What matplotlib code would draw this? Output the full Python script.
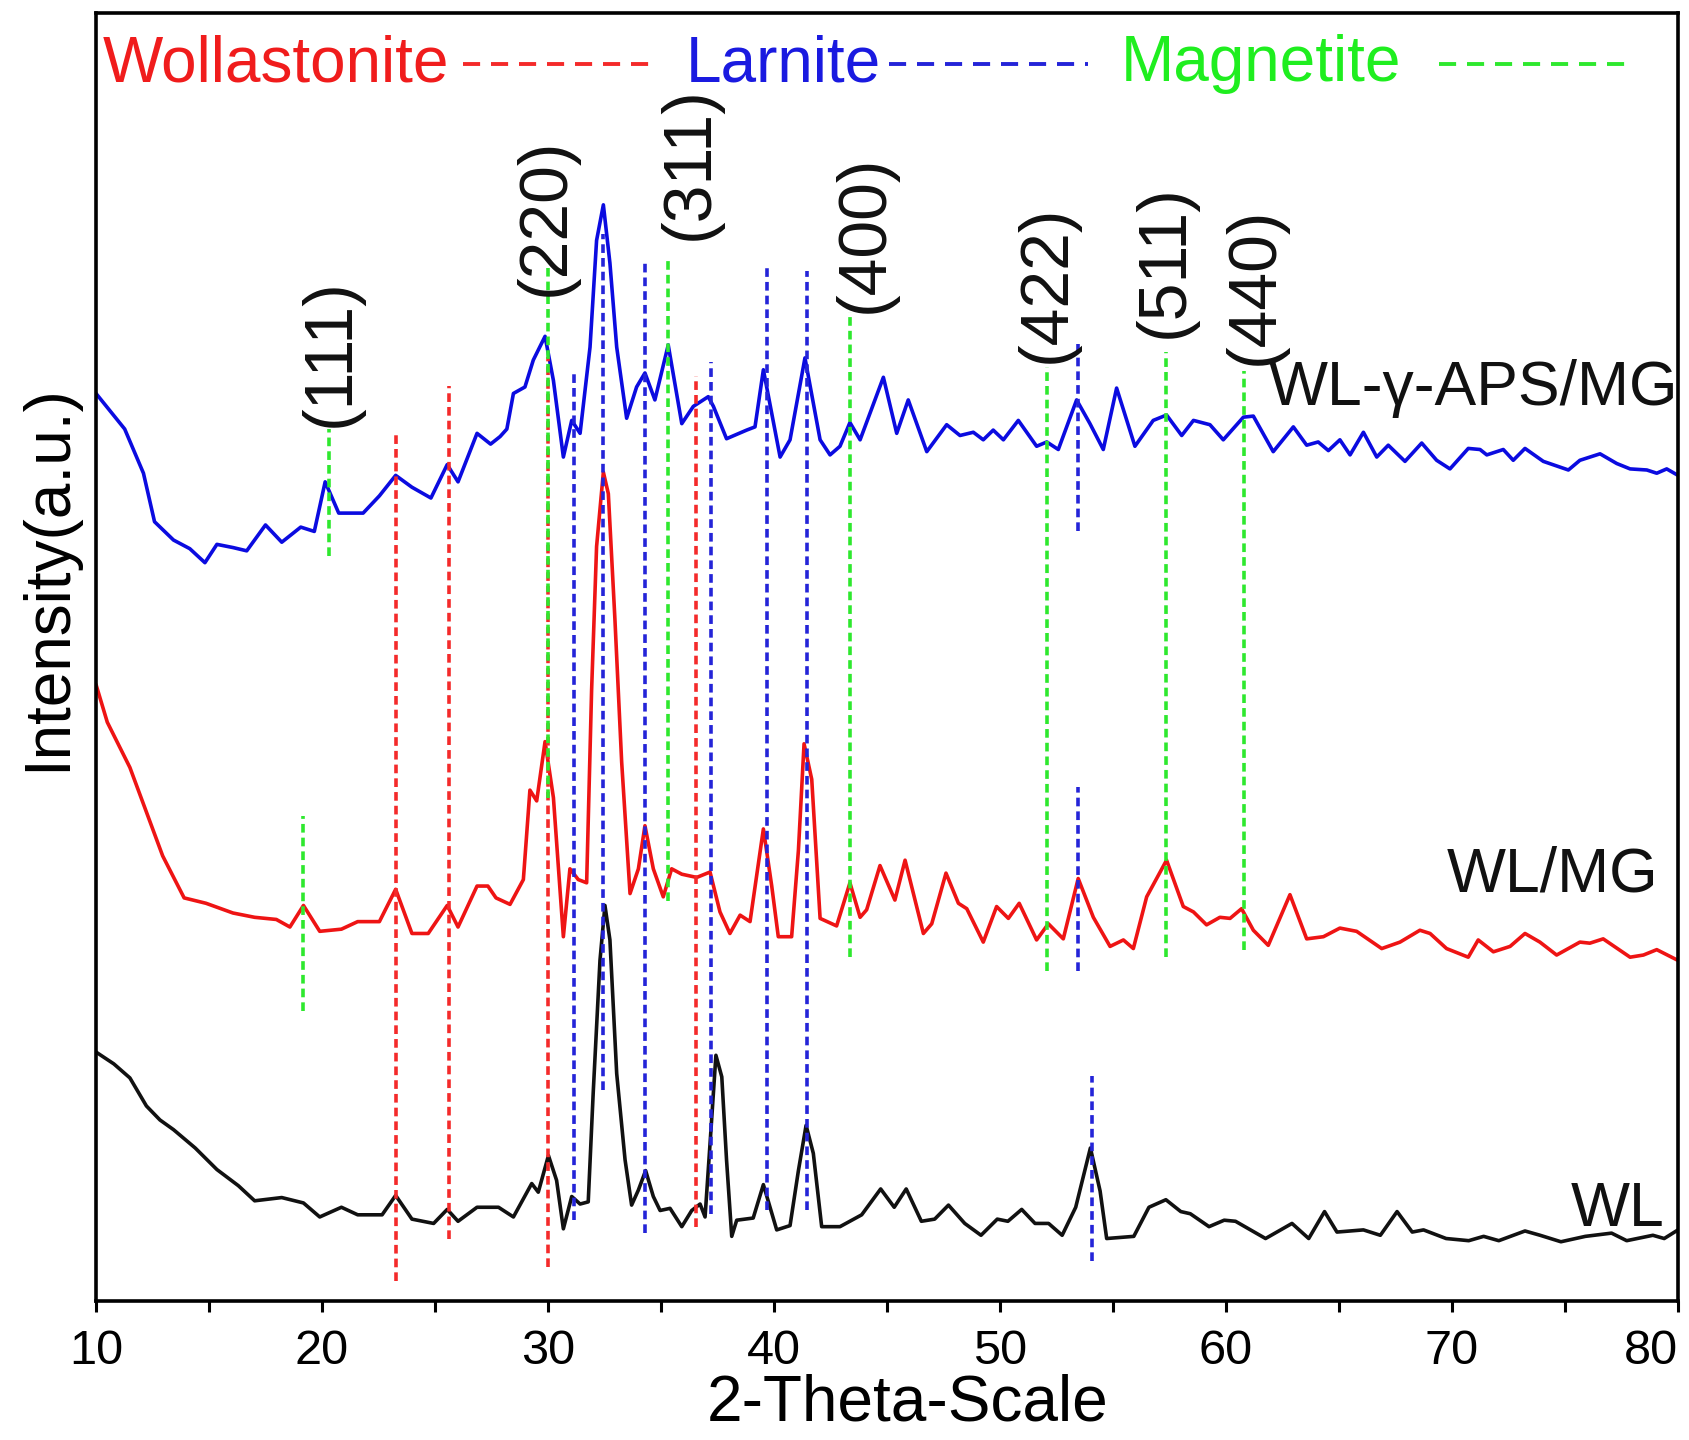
import matplotlib
matplotlib.use("Agg")
import matplotlib.pyplot as plt

plt.rcParams['font.family'] = ['Liberation Sans', 'DejaVu Sans']

# ---------------- data (2-theta in degrees, intensity in a.u.) ----------------
theta_aps = [10.0, 11.27, 12.1, 12.59, 13.43, 14.15, 14.82, 15.35, 16.07, 16.67,
             17.5, 18.22, 19.06, 19.66, 20.14, 20.74, 21.82, 22.54, 23.26, 23.98,
             24.82, 25.54, 26.02, 26.86, 27.46, 27.88, 28.18, 28.47, 28.98, 29.35,
             29.87, 30.24, 30.68, 31.05, 31.42, 31.86, 32.15, 32.45, 32.74, 33.04,
             33.48, 33.92, 34.29, 34.73, 35.32, 35.92, 36.43, 37.09, 37.32, 37.9,
             38.79, 39.16, 39.53, 40.27, 40.71, 41.37, 42.04, 42.48, 42.92, 43.36,
             43.81, 44.84, 45.43, 45.94, 46.76, 47.64, 48.23, 48.82, 49.26, 49.7,
             50.15, 50.81, 51.62, 52.07, 52.58, 53.39, 53.98, 54.57, 55.16, 55.97,
             56.78, 57.37, 58.04, 58.56, 59.29, 59.88, 60.77, 61.21, 62.09, 62.98,
             63.57, 64.08, 64.53, 65.04, 65.49, 66.08, 66.67, 67.18, 67.92, 68.66,
             69.32, 69.91, 70.72, 71.24, 71.54, 72.27, 72.71, 73.23, 74.04, 75.15,
             75.66, 76.55, 77.29, 77.88, 78.62, 79.06, 79.5, 80.0]
int_aps = [842, 809, 768, 723, 706, 698, 685, 702, 699, 696,
           720, 704, 718, 714, 760, 731, 731, 747, 766, 755,
           745, 776, 760, 805, 795, 802, 809, 842, 848, 873,
           895, 854, 783, 817, 805, 885, 984, 1017, 963, 885,
           819, 848, 861, 836, 887, 814, 830, 839, 830, 800,
           808, 811, 864, 783, 799, 875, 799, 785, 793, 815,
           799, 857, 805, 836, 788, 813, 803, 806, 799, 808,
           799, 817, 793, 797, 790, 836, 814, 790, 847, 793,
           817, 822, 803, 817, 813, 799, 820, 821, 788, 811,
           794, 797, 789, 799, 785, 806, 783, 794, 779, 796,
           780, 772, 791, 790, 785, 790, 780, 791, 779, 771,
           780, 786, 777, 772, 771, 768, 772, 766]

theta_wlmg = [10.0, 10.5, 11.5, 12.95, 13.9, 14.87, 16.06, 17.02, 17.98, 18.58,
              19.18, 19.9, 20.86, 21.58, 22.54, 23.26, 23.98, 24.7, 25.54, 26.02,
              26.86, 27.34, 27.7, 28.32, 28.91, 29.2, 29.5, 29.87, 30.24, 30.68,
              30.97, 31.34, 31.71, 31.93, 32.15, 32.45, 32.67, 32.96, 33.26, 33.63,
              34.0, 34.29, 34.66, 35.1, 35.47, 35.92, 36.58, 37.17, 37.61, 38.05,
              38.5, 38.94, 39.53, 39.9, 40.19, 40.78, 41.08, 41.33, 41.67, 42.04,
              42.77,
              43.36, 43.81, 44.1, 44.69, 45.35, 45.8, 46.61, 46.98, 47.61, 48.16,
              48.53, 49.26, 49.85, 50.37, 50.85, 51.62, 52.14, 52.8, 53.46, 54.13,
              54.87, 55.46, 55.9, 56.49, 57.37, 58.11, 58.56, 59.14, 59.73, 60.18,
              60.69, 61.21, 61.87, 62.83, 63.57, 64.31, 65.04, 65.78, 66.89, 67.7,
              68.58, 69.03, 69.76, 70.72, 71.16, 71.83, 72.57, 73.23, 73.89, 74.63,
              75.66, 76.1, 76.69, 77.88, 78.47, 79.06, 80.0]
int_wlmg = [572, 537, 495, 413, 374, 369, 360, 356, 354, 347,
            367, 343, 345, 352, 352, 382, 341, 341, 367, 347,
            385, 385, 374, 368, 391, 474, 464, 519, 467, 338,
            401, 391, 388, 567, 700, 769, 749, 633, 500, 378,
            401, 441, 401, 375, 401, 396, 393, 398, 361, 341,
            358, 352, 438, 385, 338, 338, 418, 517, 484, 355,
            348,
            388, 356, 363, 404, 372, 409, 341, 350, 397, 369,
            364, 333, 366, 355, 369, 335, 350, 336, 392, 356,
            329, 335, 327, 375, 409, 366, 361, 349, 356, 355,
            364, 344, 330, 377, 336, 338, 346, 343, 327, 333,
            344, 341, 327, 319, 335, 324, 329, 341, 333, 321,
            333, 332, 336, 319, 321, 326, 316]

theta_wl = [10.0, 10.79, 11.5, 12.23, 12.83, 13.43, 14.39, 15.35, 16.3, 17.02,
            18.22, 19.18, 19.9, 20.86, 21.58, 22.66, 23.26, 23.98, 24.94, 25.54,
            26.02, 26.86, 27.81, 28.47, 29.28, 29.57, 30.02, 30.38, 30.68, 31.05,
            31.42, 31.78, 32.0, 32.3, 32.52, 32.74, 33.04, 33.41, 33.7, 34.0,
            34.32, 34.66, 34.96, 35.4, 35.92, 36.36, 36.73, 36.95, 37.17, 37.43,
            37.69, 37.9, 38.13, 38.35, 39.08, 39.53, 40.12, 40.71, 41.08, 41.42,
            41.74, 42.11, 42.92, 43.88, 44.72, 45.32, 45.85, 46.52, 47.11, 47.72,
            48.44, 49.16, 49.88, 50.35, 50.96, 51.55, 52.15, 52.75, 53.35, 54.0,
            54.43,
            54.72, 55.92, 56.59, 57.34, 58.0, 58.42, 59.25, 59.92, 60.42, 61.75,
            62.92, 63.66, 64.36, 64.91, 66.08, 66.83, 67.57, 68.24, 68.74, 69.74,
            70.74, 71.4, 72.07, 73.23, 73.9, 74.82, 75.9, 77.06, 77.73, 78.89,
            79.39, 80.0]
int_wl = [231, 220, 207, 181, 168, 159, 142, 122, 107, 93,
          96, 91, 78, 87, 80, 80, 98, 76, 72, 85,
          74, 87, 87, 78, 109, 101, 135, 112, 67, 97,
          90, 92, 193, 316, 367, 335, 211, 131, 89, 103,
          121, 97, 84, 86, 69, 84, 90, 78, 146, 228,
          208, 131, 60, 75, 77, 108, 66, 70, 121, 163,
          137, 69, 69, 80, 104, 87, 104, 74, 76, 89,
          72, 61, 76, 74, 85, 72, 72, 61, 87, 142,
          102,
          58, 60, 87, 94, 83, 81, 69, 75, 74, 58,
          72, 58, 83, 64, 66, 61, 83, 64, 66, 58,
          56, 60, 56, 65, 61, 55, 60, 63, 56, 61,
          58, 66]

# reference (phase) lines: position, phase, lower and upper end
ref_theta = [20.3, 23.26, 25.6, 30.0, 30.0, 31.15, 32.42, 34.29, 35.3, 36.55,
             37.2, 39.68, 41.45, 43.36, 52.1, 53.45, 53.45, 57.35, 60.8, 19.16, 54.06]
ref_phase = ['M', 'W', 'W', 'W', 'M', 'L', 'L', 'L', 'M', 'W',
             'L', 'L', 'L', 'M', 'M', 'L', 'L', 'M', 'M', 'M', 'L']
ref_low = [691, 19, 58, 32, 467, 75, 196, 63, 371, 69,
           81, 84, 84, 319, 306, 714, 306, 319, 326, 269, 37]
ref_high = [809, 807, 849, 876, 958, 862, 990, 966, 966, 858,
            871, 958, 956, 918, 867, 888, 477, 880, 863, 450, 209]

# Miller indices of magnetite
hkl_labels = ['(111)', '(220)', '(311)', '(400)', '(422)', '(511)', '(440)']
hkl_theta = [20.38, 29.9, 36.26, 44.0, 52.08, 57.31, 61.27]
hkl_int = [880, 1006, 1056, 990, 944, 965, 942]

phase_names = ['Wollastonite', 'Larnite', 'Magnetite']
phase_keys = ['W', 'L', 'M']
phase_colors = {'W': '#f42a2a', 'L': '#2424d8', 'M': '#2ee82e'}
text_colors = {'W': '#f01c1c', 'L': '#1a1ae0', 'M': '#1fee1f'}

sample_names = ['WL-γ-APS/MG', 'WL/MG', 'WL']

xtick_major = [10, 20, 30, 40, 50, 60, 70, 80]
xtick_minor = [15, 25, 35, 45, 55, 65, 75]

# ---------------- figure ----------------
fig = plt.figure(figsize=(16.9, 14.4), dpi=100)
ax = fig.add_axes([0.0568, 0.0965, 0.9361, 0.8945])

kw = dict(lw=2.6, zorder=2, solid_joinstyle='round', solid_capstyle='round')
ax.plot(theta_aps, int_aps, color='#0b0be0', **kw)
ax.plot(theta_wlmg, int_wlmg, color='#ee1414', **kw)
ax.plot(theta_wl, int_wl, color='#111111', **kw)

for t, ph, lo, hi in zip(ref_theta, ref_phase, ref_low, ref_high):
    ax.vlines(t, lo, hi, colors=phase_colors[ph], linestyles=(0, (2.4, 1.4)),
              lw=2.6, zorder=3)

# phase key at top
key_text_x = [0.004, 0.373, 0.648]
key_line_x = [(0.232, 0.355), (0.501, 0.627), (0.849, 0.971)]
for name, key, tx, (x0, x1) in zip(phase_names, phase_keys, key_text_x, key_line_x):
    ax.text(tx, 0.960, name, transform=ax.transAxes, color=text_colors[key],
            fontsize=46, ha='left', va='center')
    ax.plot([x0, x1], [0.960, 0.960], transform=ax.transAxes,
            color=phase_colors[key], lw=2.8, ls=(0, (4.4, 2.8)))

for lab, t, y in zip(hkl_labels, hkl_theta, hkl_int):
    ax.text(t, y, lab, rotation=90, ha='center', va='center', fontsize=49,
            color='#111111')

ax.text(80.0, 847, sample_names[0], ha='right', va='center', fontsize=45, color='#111111')
ax.text(79.13, 395, sample_names[1], ha='right', va='center', fontsize=45, color='#111111')
ax.text(79.4, 85, sample_names[2], ha='right', va='center', fontsize=45, color='#111111')

ax.set_xlim(10, 80)
ax.set_ylim(0, 1195)
ax.set_yticks([])
ax.set_xticks(xtick_major)
ax.set_xticks(xtick_minor, minor=True)
ax.tick_params(axis='x', which='both', direction='out', length=8, width=2.2,
               labelsize=35, pad=12)
for sp in ax.spines.values():
    sp.set_linewidth(2.6)

ax.set_xlabel('2-Theta-Scale', fontsize=46)
ax.xaxis.set_label_coords(0.513, -0.056)
ax.set_ylabel('Intensity(a.u.)', fontsize=46)
ax.yaxis.label.set_va('center')
ax.yaxis.set_label_coords(-0.030, 0.562)

# keep the last tick label ("80") inside the figure, as in the original
fig.canvas.draw()
for tick in ax.xaxis.get_major_ticks():
    if abs(tick.get_loc() - xtick_major[-1]) < 1e-9:
        tick.label1.set_horizontalalignment('right')

fig.savefig('out.png', dpi=100)
